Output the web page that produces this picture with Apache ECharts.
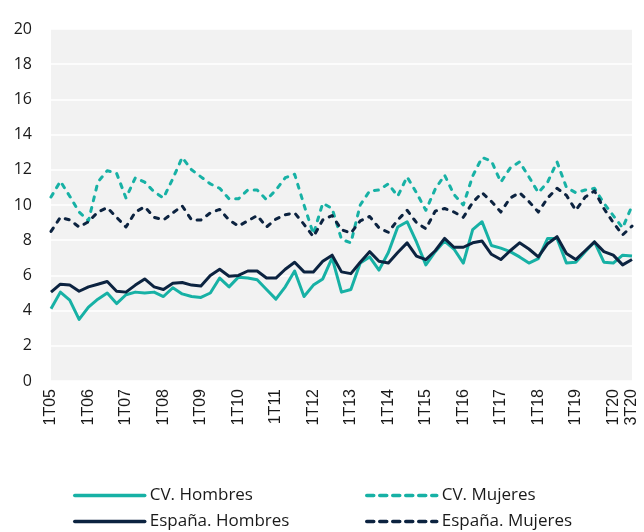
<!DOCTYPE html>
<html>
<head>
<meta charset="utf-8">
<script src="https://cdn.jsdelivr.net/npm/echarts@6/dist/echarts.min.js"></script>
<style>
html,body{margin:0;padding:0;background:#fff;}
#chart{width:644px;height:532px;}
</style>
</head>
<body>
<div id="chart"></div>
<script>
var years = ['05','06','07','08','09','10','11','12','13','14','15','16','17','18','19','20'];
var quarters = ['1T','2T','3T','4T'];
var categories = [];
years.forEach(function(y){ quarters.forEach(function(q){ categories.push(q + y); }); });
categories = categories.slice(0, 63);

var cvHombres = [4.1,5.05,4.6,3.5,4.2,4.65,5.0,4.4,4.9,5.05,5.0,5.05,4.8,5.3,4.95,4.8,4.75,5.0,5.85,5.35,
  5.9,5.85,5.75,5.2,4.65,5.35,6.25,4.8,5.45,5.8,7.0,5.05,5.2,6.7,7.05,6.3,7.3,8.75,9.05,7.9,
  6.6,7.35,7.95,7.5,6.7,8.6,9.05,7.7,7.55,7.35,7.05,6.7,6.95,8.1,8.1,6.7,6.75,7.35,7.9,6.75,
  6.7,7.15,7.1];
var cvMujeres = [10.45,11.35,10.5,9.6,9.1,11.3,11.95,11.8,10.4,11.55,11.3,10.75,10.4,11.5,12.7,12.0,11.6,11.2,10.95,10.35,
  10.35,10.85,10.85,10.3,10.85,11.55,11.75,10.0,8.35,10.1,9.8,8.05,7.85,10.0,10.8,10.85,11.2,10.5,11.6,10.7,
  9.7,10.9,11.7,10.6,10.0,11.65,12.7,12.5,11.3,12.1,12.45,11.6,10.7,11.3,12.45,11.0,10.7,10.85,10.95,10.1,
  9.4,8.7,9.95];
var espHombres = [5.05,5.5,5.45,5.1,5.35,5.5,5.65,5.1,5.05,5.45,5.8,5.35,5.2,5.55,5.6,5.45,5.4,6.0,6.35,5.95,
  6.0,6.25,6.25,5.85,5.85,6.35,6.75,6.2,6.2,6.8,7.15,6.2,6.1,6.75,7.35,6.8,6.7,7.3,7.85,7.1,
  6.9,7.4,8.1,7.6,7.6,7.85,7.95,7.2,6.9,7.4,7.85,7.5,7.05,7.8,8.2,7.25,6.9,7.4,7.9,7.35,
  7.15,6.6,6.9];
var espMujeres = [8.5,9.3,9.15,8.75,9.05,9.6,9.85,9.3,8.75,9.6,9.9,9.3,9.15,9.55,9.95,9.15,9.15,9.55,9.75,9.15,
  8.8,9.1,9.4,8.75,9.2,9.45,9.55,8.9,8.2,9.15,9.4,8.6,8.4,9.1,9.35,8.7,8.45,9.15,9.7,9.0,
  8.65,9.65,9.8,9.6,9.3,10.15,10.7,10.2,9.6,10.4,10.7,10.2,9.6,10.4,10.95,10.55,9.7,10.45,10.8,9.8,
  9.0,8.3,8.8];

var TEAL = '#17b1a5';
var NAVY = '#0c2340';
var dash = [4, 7];
var legendDash = [7, 6];

function mk(name, data, color, dashed) {
  return {
    name: name, type: 'line', data: data, symbol: 'none', showSymbol: false, smooth: false,
    lineStyle: { color: color, width: 3, type: dashed ? dash : 'solid', cap: dashed ? 'round' : 'butt', join: 'round' },
    itemStyle: { color: color },
    emphasis: { disabled: true }, animation: false
  };
}

function leg(name, left, top, dashed) {
  return {
    left: left, top: top, orient: 'horizontal', itemWidth: 70, itemHeight: 14, itemGap: 0,
    textStyle: { fontFamily: 'Open Sans', fontSize: 17, color: '#1a1a1a', padding: [0, 0, 0, 0] },
    selectedMode: false,
    itemStyle: { opacity: 0, borderWidth: 0 },
    lineStyle: dashed ? { type: legendDash, width: 3.5, cap: 'round' } : { width: 3.5, cap: 'round' },
    data: [name]
  };
}

var chart = echarts.init(document.getElementById('chart'), null, { renderer: 'canvas' });
chart.setOption({
  animation: false,
  backgroundColor: '#ffffff',
  grid: { left: 51, right: 12, top: 29, bottom: 151, show: true, backgroundColor: '#f2f2f2', borderWidth: 0, containLabel: false },
  legend: [
    leg('CV. Hombres', 68, 482, false),
    leg('España. Hombres', 68, 508, false),
    leg('CV. Mujeres', 360, 482, true),
    leg('España. Mujeres', 360, 508, true)
  ],
  xAxis: {
    type: 'category', data: categories, boundaryGap: false,
    axisLine: { show: false }, axisTick: { show: false },
    axisLabel: {
      rotate: 90, margin: 8, fontFamily: 'Liberation Sans', fontSize: 16, color: '#1a1a1a',
      interval: 0,
      formatter: function (v, i) { return (i % 4 === 0 || i === 62) ? v : ''; }
    },
    splitLine: { show: false }
  },
  yAxis: {
    type: 'value', min: 0, max: 20, interval: 2,
    axisLine: { show: false }, axisTick: { show: false },
    axisLabel: { fontFamily: 'Open Sans', fontSize: 16, color: '#1a1a1a', margin: 19 },
    splitLine: { lineStyle: { color: '#ffffff', width: 1.5 } }
  },
  series: [
    mk('CV. Hombres', cvHombres, TEAL, false),
    mk('CV. Mujeres', cvMujeres, TEAL, true),
    mk('España. Hombres', espHombres, NAVY, false),
    mk('España. Mujeres', espMujeres, NAVY, true)
  ]
});
</script>
</body>
</html>
